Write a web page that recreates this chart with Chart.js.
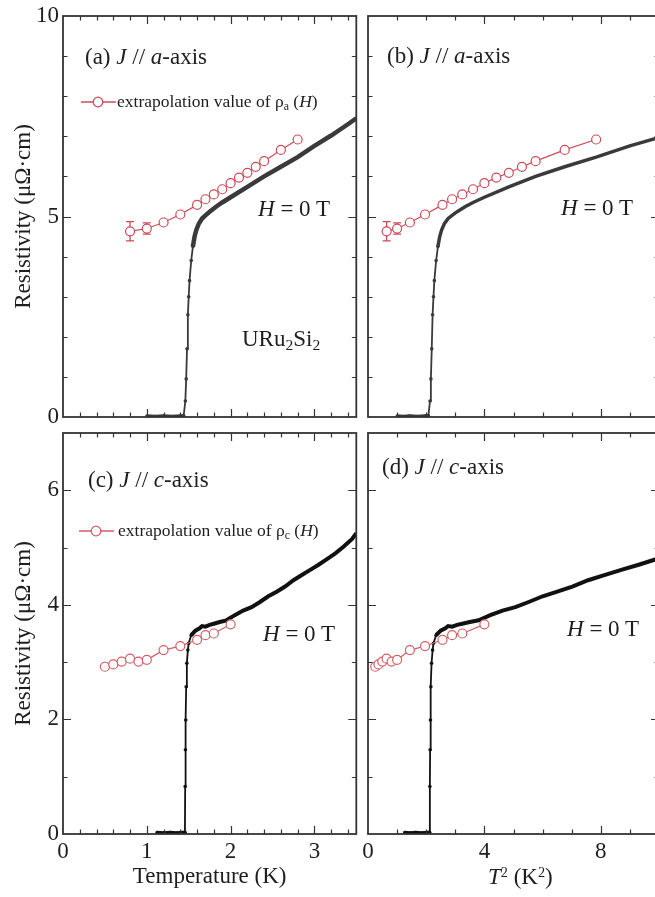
<!DOCTYPE html>
<html><head><meta charset="utf-8">
<script src="https://cdn.jsdelivr.net/npm/chart.js@4.4.1/dist/chart.umd.min.js"></script>
<style>
html,body{margin:0;padding:0;width:655px;height:897px;overflow:hidden;background:#fff}
canvas{position:absolute}
.t{position:absolute;font-family:'Liberation Serif','Times New Roman',serif;font-size:23px;line-height:1;color:#1e1e1e;white-space:nowrap}
.s{font-size:17.5px}
.dn{position:relative;top:0.28em;font-size:0.68em}
.up{position:relative;top:-0.5em;font-size:0.62em}
svg{position:absolute}
</style></head><body>
<canvas id="cA" width="362" height="435" style="left:0;top:0;width:362px;height:435px"></canvas>
<canvas id="cB" width="320" height="435" style="left:345px;top:0;width:320px;height:435px"></canvas>
<canvas id="cC" width="362" height="487" style="left:0;top:410px;width:362px;height:487px"></canvas>
<canvas id="cD" width="320" height="487" style="left:345px;top:410px;width:320px;height:487px"></canvas>

<div class="t" style="left:85px;top:45px">(a) <i>J</i> // <i>a</i>-axis</div>
<div class="t" style="left:387px;top:44px">(b) <i>J</i> // <i>a</i>-axis</div>
<div class="t" style="left:88px;top:468px">(c) <i>J</i> // <i>c</i>-axis</div>
<div class="t" style="left:382px;top:455px">(d) <i>J</i> // <i>c</i>-axis</div>
<div class="t" style="left:258px;top:197px"><i>H</i> = 0 T</div>
<div class="t" style="left:561px;top:196px"><i>H</i> = 0 T</div>
<div class="t" style="left:263px;top:622px"><i>H</i> = 0 T</div>
<div class="t" style="left:567px;top:617px"><i>H</i> = 0 T</div>
<div class="t" style="left:242px;top:327px">URu<span class="dn">2</span>Si<span class="dn">2</span></div>
<svg style="left:81px;top:96px" width="35" height="12"><line x1="0" y1="6" x2="35" y2="6" stroke="#cc4b57" stroke-width="1.3"/><circle cx="17" cy="6" r="4.8" fill="#fff" stroke="#cc4b57" stroke-width="1.3"/></svg>
<div class="t s" style="left:117px;top:93px">extrapolation value of ρ<span class="dn">a</span> (<i>H</i>)</div>
<svg style="left:79px;top:525px" width="35" height="12"><line x1="0" y1="6" x2="35" y2="6" stroke="#d35f66" stroke-width="1.3"/><circle cx="17" cy="6" r="4.8" fill="#fff" stroke="#d35f66" stroke-width="1.3"/></svg>
<div class="t s" style="left:118px;top:522px">extrapolation value of ρ<span class="dn">c</span> (<i>H</i>)</div>
<div class="t" style="left:488px;top:865px"><i>T</i><span class="up">2</span> (K<span class="up">2</span>)</div>

<script>
// ---- data (T in K, resistivity in µΩ·cm) ----
// J // a-axis: extrapolated values
const tRedA   = [0.8, 1.0, 1.2, 1.4, 1.6, 1.7, 1.8, 1.9, 2.0, 2.1, 2.2, 2.3, 2.4, 2.6, 2.8];
const rhoRedA = [4.63, 4.70, 4.85, 5.05, 5.29, 5.43, 5.55, 5.68, 5.83, 5.97, 6.09, 6.24, 6.38, 6.66, 6.92];
const errRedA = [0.24, 0.14, 0, 0, 0, 0, 0, 0, 0, 0, 0, 0, 0, 0, 0];
// J // a-axis: measured H = 0 curve
const tFlatA   = [1.00, 1.10, 1.20, 1.30, 1.40, 1.44];
const rhoFlatA = [0.03, 0.02, 0.03, 0.02, 0.03, 0.03];
const tTransA   = [1.44, 1.46, 1.47, 1.48, 1.49, 1.50, 1.51, 1.53, 1.55];
const rhoTransA = [0.03, 0.4, 0.95, 1.7, 2.55, 3.0, 3.4, 3.9, 4.25];
const tNormA   = [1.55, 1.57, 1.59, 1.62, 1.66, 1.70, 1.75, 1.83, 1.90, 2.00, 2.20, 2.40, 2.60, 2.80, 3.00, 3.20, 3.40, 3.50];
const rhoNormA = [4.25, 4.50, 4.66, 4.82, 4.95, 5.03, 5.12, 5.25, 5.35, 5.48, 5.74, 6.00, 6.24, 6.48, 6.76, 7.02, 7.30, 7.45];
// J // c-axis: extrapolated values
const tRedC   = [0.5, 0.6, 0.7, 0.8, 0.9, 1.0, 1.2, 1.4, 1.6, 1.7, 1.8, 2.0];
const rhoRedC = [2.92, 2.96, 3.01, 3.06, 3.01, 3.04, 3.21, 3.28, 3.39, 3.47, 3.50, 3.66];
// J // c-axis: measured H = 0 curve
const tFlatC   = [1.12, 1.20, 1.28, 1.36, 1.42, 1.455];
const rhoFlatC = [0.03, 0.02, 0.03, 0.02, 0.03, 0.03];
const tTransC   = [1.455, 1.458, 1.461, 1.465, 1.470, 1.478, 1.490, 1.500, 1.530];
const rhoTransC = [0.03, 0.83, 1.47, 1.99, 2.57, 2.98, 3.21, 3.33, 3.47];
const tNormC   = [1.53, 1.58, 1.63, 1.66, 1.70, 1.75, 1.80, 1.87, 1.95, 2.05, 2.15, 2.25, 2.35, 2.45, 2.55, 2.65, 2.75, 2.85, 2.95, 3.05, 3.15, 3.25, 3.35, 3.45, 3.50];
const rhoNormC = [3.47, 3.55, 3.59, 3.63, 3.62, 3.65, 3.67, 3.70, 3.73, 3.82, 3.90, 3.96, 4.05, 4.15, 4.23, 4.32, 4.43, 4.52, 4.61, 4.70, 4.80, 4.90, 5.02, 5.15, 5.25];
// tick labels
const yTicksTop = [0, 5, 10];
const yTicksBottom = [0, 2, 4, 6];
const xTicksT = [0, 1, 2, 3];
const xTicksT2 = [0, 4, 8];

const FONT = "'Liberation Serif','Times New Roman',serif";
const RED_A = '#cc4b57', RED_C = '#d35f66', BLK_A = '#3a3a3a', BLK_C = '#111';

function pts(xs, ys, squared) {
  return xs.map((t, i) => ({x: squared ? t * t : t, y: ys[i]}));
}

const frameTicks = {
  id: 'frameTicks',
  afterDatasetsDraw(chart, args, o) {
    const {ctx, chartArea: {left, right, top, bottom}, scales: {x, y}} = chart;
    ctx.save();
    ctx.strokeStyle = '#333';
    ctx.lineWidth = 1.2;
    const run = (scale, step, major, horiz) => {
      const n = Math.round((scale.max - scale.min) / step);
      for (let i = 1; i < n; i++) {
        const v = scale.min + i * step;
        const isMajor = Math.abs(v / major - Math.round(v / major)) < 1e-6;
        const L = isMajor ? 8 : 4.5;
        const p = Math.round(scale.getPixelForValue(v)) + 0.5;
        ctx.beginPath();
        if (horiz) {
          ctx.moveTo(p, bottom); ctx.lineTo(p, bottom - L);
          ctx.moveTo(p, top); ctx.lineTo(p, top + L);
        } else {
          ctx.moveTo(left, p); ctx.lineTo(left + L, p);
          ctx.moveTo(right, p); ctx.lineTo(right - L, p);
        }
        ctx.stroke();
      }
    };
    run(x, o.xMinor, o.xMajor, true);
    run(y, o.yMinor, o.yMajor, false);
    ctx.lineWidth = 1.8;
    ctx.strokeRect(left, top, right - left, bottom - top);
    ctx.restore();
  }
};

const errorBars = {
  id: 'errorBars',
  beforeDatasetsDraw(chart) {
    const {ctx, scales: {y}} = chart;
    chart.data.datasets.forEach((ds, di) => {
      if (!ds.errors) return;
      const meta = chart.getDatasetMeta(di);
      ctx.save();
      ctx.strokeStyle = ds.borderColor;
      ctx.lineWidth = 1.3;
      meta.data.forEach((el, i) => {
        const e = ds.errors[i];
        if (!e) return;
        const v = ds.data[i].y;
        const y1 = y.getPixelForValue(v - e), y2 = y.getPixelForValue(v + e);
        ctx.beginPath();
        ctx.moveTo(el.x, y1); ctx.lineTo(el.x, y2);
        ctx.moveTo(el.x - 4, y1); ctx.lineTo(el.x + 4, y1);
        ctx.moveTo(el.x - 4, y2); ctx.lineTo(el.x + 4, y2);
        ctx.stroke();
      });
      ctx.restore();
    });
  }
};

function datasets(red, err, redColor, flat, trans, norm, black, normWidth) {
  return [
    {data: red, errors: err, borderColor: redColor, borderWidth: 1.2, pointRadius: 4.5,
     pointBackgroundColor: '#fff', pointBorderColor: redColor, pointBorderWidth: 1.2, order: 0},
    {data: flat, borderColor: black, borderWidth: 3, pointRadius: 1.5, pointBackgroundColor: black, pointBorderWidth: 0, order: 1},
    {data: trans, borderColor: black, borderWidth: 1.8, pointRadius: 1.8, pointBackgroundColor: black, pointBorderWidth: 0, order: 1},
    {data: norm, borderColor: black, borderWidth: normWidth, pointRadius: 0, order: 1}
  ];
}

const tickFont = {family: FONT, size: 23, lineHeight: 1};
const titleFont = {family: FONT, size: 23, lineHeight: 1.2};

function yAxis(max, ticks, show) {
  if (!show) return {type: 'linear', min: 0, max: max, display: false};
  return {
    type: 'linear', min: 0, max: max,
    afterBuildTicks: s => { s.ticks = ticks.map(v => ({value: v})); },
    afterFit: s => { s.width = 63; },
    grid: {display: false, drawTicks: false}, border: {display: false},
    ticks: {font: tickFont, color: '#1e1e1e', padding: 4},
    title: {display: true, text: 'Resistivity (μΩ·cm)', font: titleFont, color: '#1e1e1e', padding: {top: 10}}
  };
}
function xAxis(max, ticks, show, title) {
  if (!show) return {type: 'linear', min: 0, max: max, display: false};
  return {
    type: 'linear', min: 0, max: max,
    afterBuildTicks: s => { s.ticks = ticks.map(v => ({value: v})); },
    afterFit: s => { s.height = 63; },
    grid: {display: false, drawTicks: false}, border: {display: false},
    ticks: {font: tickFont, color: '#1e1e1e', padding: 6},
    title: {display: !!title, text: title || '', font: titleFont, color: '#1e1e1e', padding: {bottom: 6}}
  };
}

function make(id, ds, xs, ys, padding, tickOpts) {
  return new Chart(document.getElementById(id), {
    type: 'line',
    data: {datasets: ds},
    options: {
      responsive: false, animation: false, devicePixelRatio: 1,
      layout: {padding: padding},
      elements: {line: {tension: 0}},
      scales: {x: xs, y: ys},
      plugins: {legend: {display: false}, tooltip: {enabled: false}, frameTicks: tickOpts}
    },
    plugins: [frameTicks, errorBars]
  });
}

make('cA',
  datasets(pts(tRedA, rhoRedA), errRedA, RED_A, pts(tFlatA, rhoFlatA), pts(tTransA, rhoTransA), pts(tNormA, rhoNormA), BLK_A, 4.5),
  xAxis(3.5, xTicksT, false), yAxis(10, yTicksTop, true),
  {top: 16, right: 4, bottom: 18, left: 0},
  {xMinor: 0.2, xMajor: 1, yMinor: 1, yMajor: 5});

make('cB',
  datasets(pts(tRedA, rhoRedA, true), errRedA, RED_A, pts(tFlatA, rhoFlatA, true), pts(tTransA, rhoTransA, true), pts(tNormA, rhoNormA, true), BLK_A, 3.5),
  xAxis(10, xTicksT2, false), yAxis(10, yTicksTop, false),
  {top: 16, right: 6, bottom: 18, left: 23},
  {xMinor: 1, xMajor: 4, yMinor: 1, yMajor: 5});

make('cC',
  datasets(pts(tRedC, rhoRedC), null, RED_C, pts(tFlatC, rhoFlatC), pts(tTransC, rhoTransC), pts(tNormC, rhoNormC), BLK_C, 4),
  xAxis(3.5, xTicksT, true, 'Temperature (K)'), yAxis(7, yTicksBottom, true),
  {top: 23, right: 4, bottom: 0, left: 0},
  {xMinor: 0.2, xMajor: 1, yMinor: 1, yMajor: 2});

make('cD',
  datasets(pts(tRedC, rhoRedC, true), null, RED_C, pts(tFlatC, rhoFlatC, true), pts(tTransC, rhoTransC, true), pts(tNormC, rhoNormC, true), BLK_C, 4),
  xAxis(10, xTicksT2, true), yAxis(7, yTicksBottom, false),
  {top: 23, right: 6, bottom: 0, left: 23},
  {xMinor: 1, xMajor: 4, yMinor: 1, yMajor: 2});
</script>
</body></html>
